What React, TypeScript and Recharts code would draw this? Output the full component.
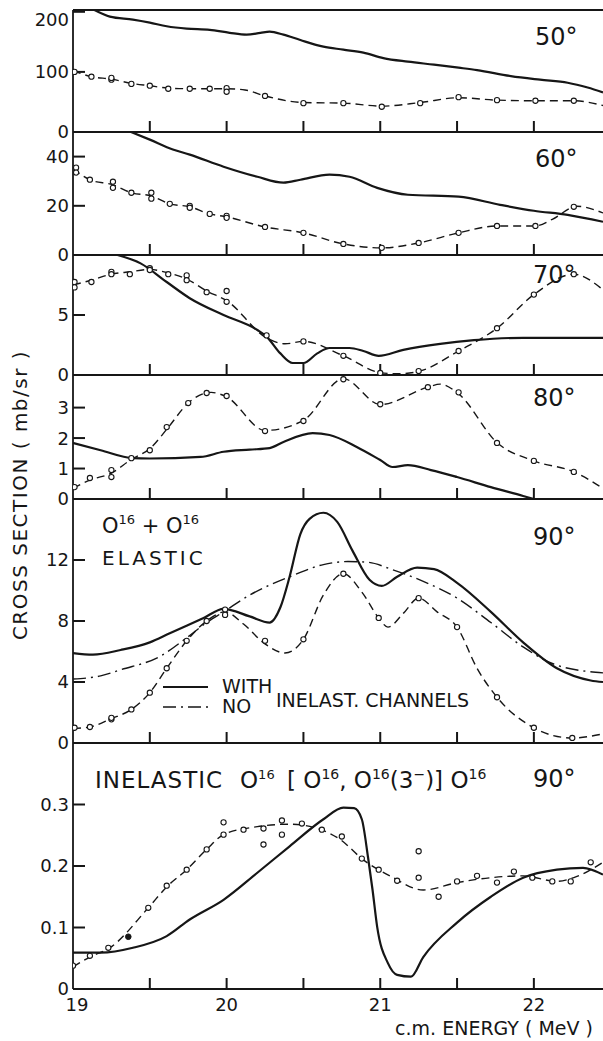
import React from "react";
import { ComposedChart, Line, XAxis, YAxis, ReferenceLine } from "recharts";

const INK = "#161616";
const FONT = "'DejaVu Sans', sans-serif";

// c.m. energy axis (MeV)
const E_DOMAIN = [19, 22.45];
const E_TICKS = [19, 19.5, 20, 20.5, 21, 21.5, 22];

// ---- 50 deg ----
const TICKS_50 = [0, 100, 200];
const WITH_50 = [[19.14, 203], [19.24, 192], [19.39, 187], [19.5, 182], [19.61, 176], [19.74, 172], [19.89, 170], [20.02, 165], [20.13, 162], [20.22, 165], [20.28, 167], [20.37, 162], [20.48, 153], [20.63, 142], [20.76, 137], [20.89, 132], [21.02, 123], [21.18, 117], [21.35, 112], [21.51, 107], [21.63, 103], [21.85, 93], [22.04, 87], [22.22, 82], [22.35, 74], [22.45, 66]];
const NO_50 = [[19.0, 102], [19.12, 92], [19.25, 88], [19.38, 81], [19.5, 77], [19.62, 73], [19.76, 72], [19.89, 72], [20.0, 72], [20.12, 70], [20.25, 60], [20.5, 49], [20.76, 48], [21.01, 43], [21.26, 49], [21.51, 57], [21.76, 53], [22.01, 52], [22.26, 52], [22.45, 44]];
const EXP_50 = [[19.01, 100], [19.12, 92], [19.25, 87], [19.25, 90], [19.38, 80], [19.5, 77], [19.62, 72], [19.76, 72], [19.89, 72], [20.0, 73], [20.0, 67], [20.25, 60], [20.5, 48], [20.76, 48], [21.01, 42], [21.26, 48], [21.51, 58], [21.76, 53], [22.01, 52], [22.26, 52]];

// ---- 60 deg ----
const TICKS_60 = [0, 20, 40];
const WITH_60 = [[19.37, 50.2], [19.5, 46.9], [19.65, 42.9], [19.76, 40.8], [19.98, 35.9], [20.2, 31.8], [20.37, 29.4], [20.48, 30.6], [20.67, 32.7], [20.8, 31.8], [20.98, 27.3], [21.18, 24.5], [21.51, 23.7], [21.78, 20.4], [22.0, 18.0], [22.22, 16.3], [22.45, 13.5]];
const NO_60 = [[19.0, 35], [19.11, 30.6], [19.26, 28.5], [19.38, 25.3], [19.51, 24], [19.63, 20.8], [19.76, 19.6], [19.89, 16.7], [20.0, 15.5], [20.25, 11.4], [20.5, 9.0], [20.76, 4.5], [21.01, 2.9], [21.25, 4.9], [21.51, 9.0], [21.76, 11.8], [22.01, 11.8], [22.12, 14.5], [22.28, 19.8], [22.45, 17.1]];
const EXP_60 = [[19.02, 35.5], [19.02, 33.5], [19.11, 30.6], [19.26, 29.8], [19.26, 27.3], [19.38, 25.3], [19.51, 25.3], [19.51, 22.9], [19.63, 20.8], [19.76, 20.0], [19.76, 19.2], [19.89, 16.7], [20.0, 15.9], [20.0, 15.1], [20.25, 11.4], [20.5, 9.0], [20.76, 4.5], [21.01, 2.9], [21.25, 4.9], [21.51, 9.0], [21.76, 11.8], [22.01, 11.8], [22.26, 19.6]];

// ---- 70 deg ----
const TICKS_70 = [0, 5];
const WITH_70 = [[19.29, 10], [19.44, 9.3], [19.61, 7.75], [19.76, 6.4], [19.98, 5.0], [20.2, 3.75], [20.26, 3.2], [20.35, 1.8], [20.43, 1.0], [20.5, 1.0], [20.59, 1.8], [20.67, 2.25], [20.8, 2.25], [20.89, 2.0], [20.99, 1.6], [21.15, 2.1], [21.39, 2.6], [21.61, 2.9], [21.93, 3.1], [22.45, 3.1]];
const NO_70 = [[19.0, 7.5], [19.12, 7.9], [19.25, 8.4], [19.37, 8.6], [19.5, 8.8], [19.62, 8.5], [19.74, 8.0], [19.87, 7.0], [20.0, 6.2], [20.26, 3.1], [20.38, 2.6], [20.5, 2.8], [20.76, 1.6], [21.0, 0.2], [21.12, 0.1], [21.25, 0.3], [21.51, 2.0], [21.76, 3.9], [22.0, 6.7], [22.26, 8.4], [22.45, 7.1]];
const EXP_70 = [[19.01, 7.75], [19.01, 7.3], [19.12, 7.75], [19.25, 8.6], [19.25, 8.4], [19.37, 8.4], [19.5, 8.9], [19.5, 8.75], [19.62, 8.4], [19.74, 8.3], [19.74, 7.9], [19.87, 6.9], [20.0, 7.0], [20.0, 6.1], [20.26, 3.3], [20.5, 2.8], [20.76, 1.6], [21.0, 0.17], [21.25, 0.33], [21.51, 2.0], [21.76, 3.9], [22.0, 6.7], [22.26, 8.4]];

// ---- 80 deg ----
const TICKS_80 = [0, 1, 2, 3];
const WITH_80 = [[19.0, 1.84], [19.18, 1.6], [19.39, 1.34], [19.5, 1.33], [19.83, 1.38], [19.98, 1.55], [20.15, 1.62], [20.28, 1.67], [20.37, 1.87], [20.56, 2.16], [20.67, 2.1], [20.85, 1.7], [21.0, 1.28], [21.08, 1.05], [21.18, 1.11], [21.33, 0.95], [21.5, 0.72], [21.72, 0.39], [21.93, 0.1], [22.0, 0]];
const NO_80 = [[19.0, 0.35], [19.11, 0.62], [19.25, 0.85], [19.38, 1.3], [19.5, 1.65], [19.62, 2.35], [19.75, 3.15], [19.9, 3.5], [20.0, 3.35], [20.25, 2.25], [20.5, 2.58], [20.76, 3.95], [21.0, 3.1], [21.31, 3.67], [21.39, 3.77], [21.51, 3.45], [21.76, 1.85], [22.0, 1.25], [22.26, 0.89], [22.45, 0.35]];
const EXP_80 = [[19.01, 0.39], [19.11, 0.69], [19.25, 0.95], [19.25, 0.72], [19.38, 1.34], [19.5, 1.6], [19.61, 2.36], [19.75, 3.15], [19.87, 3.48], [20.0, 3.38], [20.25, 2.23], [20.5, 2.56], [20.76, 3.93], [21.0, 3.11], [21.31, 3.67], [21.51, 3.5], [21.76, 1.84], [22.0, 1.25], [22.26, 0.89]];

// ---- 90 deg elastic ----
const TICKS_90 = [0, 4, 8, 12];
const WITH_90 = [[19.0, 5.9], [19.13, 5.8], [19.31, 6.1], [19.5, 6.6], [19.63, 7.2], [19.85, 8.2], [19.98, 8.8], [20.15, 8.3], [20.28, 7.9], [20.35, 8.9], [20.41, 10.9], [20.48, 13.7], [20.54, 14.7], [20.63, 15.1], [20.72, 14.5], [20.82, 12.6], [20.93, 10.7], [21.01, 10.3], [21.11, 10.9], [21.24, 11.5], [21.35, 11.4], [21.5, 10.5], [21.72, 8.6], [21.93, 6.6], [22.15, 4.9], [22.37, 4.1], [22.45, 4.0]];
const NOCH_90 = [[19.0, 4.2], [19.18, 4.4], [19.31, 4.8], [19.57, 5.7], [19.74, 6.9], [19.87, 7.9], [19.98, 8.6], [20.15, 9.7], [20.41, 10.9], [20.63, 11.7], [20.79, 11.9], [20.92, 11.85], [21.07, 11.4], [21.28, 10.6], [21.5, 9.5], [21.72, 7.9], [21.93, 6.3], [22.15, 5.1], [22.45, 4.6]];
const FIT_90 = [[19.0, 0.95], [19.11, 1.05], [19.25, 1.6], [19.38, 2.2], [19.5, 3.3], [19.61, 4.9], [19.74, 6.7], [19.87, 8.0], [19.99, 8.6], [20.11, 7.8], [20.25, 6.5], [20.38, 5.9], [20.5, 6.8], [20.63, 9.7], [20.76, 11.1], [20.88, 9.9], [20.99, 8.2], [21.05, 7.6], [21.15, 8.5], [21.25, 9.5], [21.37, 8.6], [21.5, 7.6], [21.63, 4.9], [21.76, 3.0], [22.0, 1.0], [22.12, 0.5], [22.25, 0.33], [22.45, 0.6]];
const EXP_90 = [[19.01, 1.0], [19.11, 1.05], [19.25, 1.55], [19.25, 1.65], [19.38, 2.2], [19.5, 3.3], [19.61, 4.9], [19.74, 6.7], [19.87, 8.0], [19.99, 8.75], [19.99, 8.4], [20.25, 6.7], [20.5, 6.8], [20.76, 11.1], [20.99, 8.2], [21.25, 9.5], [21.5, 7.6], [21.76, 3.0], [22.0, 1.0], [22.25, 0.33]];

// ---- 90 deg inelastic ----
const TICKS_IN = [0, 0.1, 0.2, 0.3];
const WITH_IN = [[19.0, 0.059], [19.18, 0.059], [19.39, 0.067], [19.61, 0.086], [19.76, 0.113], [19.98, 0.145], [20.2, 0.189], [20.41, 0.232], [20.63, 0.276], [20.76, 0.295], [20.83, 0.294], [20.88, 0.276], [20.92, 0.215], [20.95, 0.161], [20.98, 0.101], [21.05, 0.042], [21.11, 0.023], [21.2, 0.02], [21.28, 0.052], [21.5, 0.108], [21.72, 0.15], [21.93, 0.181], [22.15, 0.194], [22.32, 0.197], [22.45, 0.186]];
const NO_IN = [[19.0, 0.036], [19.11, 0.052], [19.24, 0.067], [19.49, 0.132], [19.61, 0.166], [19.74, 0.194], [19.87, 0.227], [19.98, 0.251], [20.2, 0.264], [20.41, 0.268], [20.59, 0.261], [20.74, 0.243], [20.89, 0.21], [21.07, 0.183], [21.28, 0.161], [21.5, 0.173], [21.72, 0.181], [21.93, 0.184], [22.15, 0.175], [22.26, 0.181], [22.45, 0.206]];
const EXP_IN = [[19.0, 0.038], [19.11, 0.054], [19.23, 0.067], [19.49, 0.132], [19.61, 0.168], [19.74, 0.194], [19.87, 0.227], [19.98, 0.271], [19.98, 0.251], [20.11, 0.259], [20.24, 0.261], [20.24, 0.235], [20.36, 0.274], [20.36, 0.251], [20.49, 0.269], [20.62, 0.259], [20.75, 0.248], [20.88, 0.212], [20.99, 0.194], [21.11, 0.176], [21.25, 0.224], [21.25, 0.181], [21.38, 0.15], [21.5, 0.175], [21.63, 0.184], [21.76, 0.173], [21.87, 0.191], [21.99, 0.181], [22.12, 0.175], [22.24, 0.175], [22.37, 0.206]];
const EXP_IN_FILLED = [[19.36, 0.085]];

const rows = (pairs: number[][]) => pairs.map(([e, v]) => ({ e, v }));

const PLOT_W = 530; // px between left axis and right edge
const X_TICK_PX = 11;
const Y_TICK_PX = 12;

const XTick = (props: any) => {
  const { x, y, payload, showLabel } = props;
  const val = payload.value;
  if (!showLabel || !Number.isInteger(val)) return <g />;
  return (
    <text x={x + (val === 19 ? 4 : 0)} y={y + 22} textAnchor="middle" fontSize={18} fontFamily={FONT} fill={INK}>
      {val}
    </text>
  );
};

const YTick = (props: any) => {
  const { x, y, payload, plotTop } = props;
  const ly = y - plotTop < 8 ? plotTop + 10 : y;
  return (
    <text x={x} y={ly} dy="0.36em" textAnchor="end" fontSize={18} fontFamily={FONT} fill={INK}>
      {String(payload.value)}
    </text>
  );
};

type PanelProps = {
  top: number;
  bottom: number;
  max: number;
  yTicks: number[];
  withCh: number[][];
  noCh?: number[][];
  dashDot?: number[][];
  exp?: number[][];
  filled?: number[][];
  first?: boolean;
  last?: boolean;
};

function Panel({ top, bottom, max, yTicks, withCh, noCh, dashDot, exp, filled, first, last }: PanelProps) {
  const padT = 14;
  const axisH = 2;
  const padB = last ? 60 : 14;
  const h = bottom - top;
  // inward tick marks: pixel length turned into data units
  const xLen = (max * X_TICK_PX) / h;
  const yLen = ((E_DOMAIN[1] - E_DOMAIN[0]) * Y_TICK_PX) / PLOT_W;
  return (
    <div style={{ position: "absolute", left: 0, top: top - padT }}>
      <ComposedChart width={603} height={h + padT + padB} margin={{ top: padT, right: 0, bottom: padB - axisH, left: 0 }}>
        <XAxis
          type="number"
          dataKey="e"
          domain={E_DOMAIN}
          allowDataOverflow
          ticks={E_TICKS}
          interval={0}
          height={axisH}
          tickSize={0}
          tickMargin={0}
          tickLine={false}
          axisLine={{ stroke: INK, strokeWidth: 1.8 }}
          tick={(p: any) => <XTick {...p} showLabel={last} />}
        />
        <YAxis
          type="number"
          dataKey="v"
          domain={[0, max]}
          allowDataOverflow
          ticks={yTicks}
          interval={0}
          width={73}
          tickSize={0}
          tickMargin={4}
          tickLine={false}
          axisLine={{ stroke: INK, strokeWidth: 1.8 }}
          tick={(p: any) => <YTick {...p} plotTop={padT} />}
        />
        {first && <ReferenceLine y={max} stroke={INK} strokeWidth={1.8} />}
        {E_TICKS.filter((e) => e > E_DOMAIN[0]).map((e) => (
          <ReferenceLine key={`xt${e}`} segment={[{ x: e, y: 0 }, { x: e, y: xLen }]} stroke={INK} strokeWidth={2} ifOverflow="visible" />
        ))}
        {yTicks.filter((t) => t > 0).map((t) => (
          <ReferenceLine key={`yt${t}`} segment={[{ x: E_DOMAIN[0], y: t }, { x: E_DOMAIN[0] + yLen, y: t }]} stroke={INK} strokeWidth={2} ifOverflow="visible" />
        ))}
        <Line data={rows(withCh)} dataKey="v" type="monotone" stroke={INK} strokeWidth={2.2} dot={false} activeDot={false} isAnimationActive={false} />
        {dashDot && (
          <Line data={rows(dashDot)} dataKey="v" type="monotone" stroke={INK} strokeWidth={1.4} strokeDasharray="13 5 2 5" dot={false} activeDot={false} isAnimationActive={false} />
        )}
        {noCh && (
          <Line data={rows(noCh)} dataKey="v" type="monotone" stroke={INK} strokeWidth={1.4} strokeDasharray="8 5" dot={false} activeDot={false} isAnimationActive={false} />
        )}
        {exp && (
          <Line data={rows(exp)} dataKey="v" stroke="none" dot={{ r: 2.6, fill: "#fff", stroke: INK, strokeWidth: 1.1 }} activeDot={false} isAnimationActive={false} />
        )}
        {filled && (
          <Line data={rows(filled)} dataKey="v" stroke="none" dot={{ r: 2.8, fill: INK, stroke: INK, strokeWidth: 1 }} activeDot={false} isAnimationActive={false} />
        )}
      </ComposedChart>
    </div>
  );
}

const sup = (s: string) => (
  <>
    <tspan dy={-9} fontSize={13}>{s}</tspan>
    <tspan dy={9}> </tspan>
  </>
);

export default function App() {
  return (
    <div style={{ position: "absolute", left: 0, top: 0, width: 603, height: 1041, background: "#fff", overflow: "hidden" }}>
      <Panel top={10} bottom={132} max={203} yTicks={TICKS_50} withCh={WITH_50} noCh={NO_50} exp={EXP_50} first />
      <Panel top={132} bottom={255} max={50} yTicks={TICKS_60} withCh={WITH_60} noCh={NO_60} exp={EXP_60} />
      <Panel top={255} bottom={375} max={10} yTicks={TICKS_70} withCh={WITH_70} noCh={NO_70} exp={EXP_70} />
      <Panel top={375} bottom={499} max={4.07} yTicks={TICKS_80} withCh={WITH_80} noCh={NO_80} exp={EXP_80} />
      <Panel top={499} bottom={743} max={16} yTicks={TICKS_90} withCh={WITH_90} dashDot={NOCH_90} noCh={FIT_90} exp={EXP_90} />
      <Panel top={743} bottom={989} max={0.4} yTicks={TICKS_IN} withCh={WITH_IN} noCh={NO_IN} exp={EXP_IN} filled={EXP_IN_FILLED} last />

      <svg width={603} height={1041} style={{ position: "absolute", left: 0, top: 0, pointerEvents: "none" }} fontFamily={FONT} fill={INK}>
        <text x={535} y={45} fontSize={24}>50°</text>
        <text x={535} y={167} fontSize={24}>60°</text>
        <text x={533} y={283} fontSize={24}>70°</text>
        <text x={533} y={406} fontSize={24}>80°</text>
        <text x={533} y={545} fontSize={24}>90°</text>
        <text x={533} y={787} fontSize={24}>90°</text>

        <text x={102} y={533} fontSize={21}>
          O{sup("16")}+ O{sup("16")}
        </text>
        <text x={102} y={565} fontSize={20} letterSpacing={3}>ELASTIC</text>

        <line x1={163} x2={208} y1={687} y2={687} stroke={INK} strokeWidth={2} />
        <line x1={163} x2={208} y1={707} y2={707} stroke={INK} strokeWidth={1.4} strokeDasharray="13 5 2 5" />
        <text x={222} y={693} fontSize={19}>WITH</text>
        <text x={222} y={713} fontSize={19}>NO</text>
        <text x={276} y={707} fontSize={19}>INELAST. CHANNELS</text>

        <text x={95} y={788} fontSize={23} letterSpacing={1}>INELASTIC</text>
        <text x={240} y={788} fontSize={23}>
          O{sup("16")}
        </text>
        <text x={287} y={788} fontSize={23}>
          [ O<tspan dy={-9} fontSize={14}>16</tspan><tspan dy={9}>, O</tspan>
          <tspan dy={-9} fontSize={14}>16</tspan><tspan dy={9}>(3</tspan>
          <tspan dy={-9} fontSize={14}>−</tspan><tspan dy={9}>)] O</tspan>
          <tspan dy={-9} fontSize={14}>16</tspan>
        </text>

        <text transform="translate(27,495) rotate(-90)" textAnchor="middle" fontSize={20} letterSpacing={1.5}>
          CROSS SECTION ( mb/sr )
        </text>
        <text x={593} y={1035} textAnchor="end" fontSize={19}>c.m. ENERGY ( MeV )</text>
      </svg>
    </div>
  );
}
